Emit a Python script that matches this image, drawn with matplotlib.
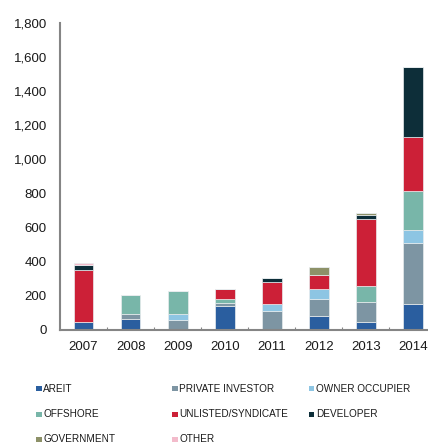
import matplotlib
matplotlib.use("Agg")
import matplotlib.pyplot as plt
from matplotlib.patches import Rectangle
import numpy as np

plt.rcParams['font.family'] = ['Liberation Sans', 'DejaVu Sans']

years = ["2007", "2008", "2009", "2010", "2011", "2012", "2013", "2014"]

series_names = ["AREIT", "PRIVATE INVESTOR", "OWNER OCCUPIER", "OFFSHORE",
                "UNLISTED/SYNDICATE", "DEVELOPER", "GOVERNMENT", "OTHER"]

areit      = [45, 62, 0, 140, 0, 81, 46, 152]
private    = [0, 30, 58, 18, 111, 97, 118, 355]
owner_occ  = [0, 0, 32, 0, 39, 58, 0, 78]
offshore   = [0, 110, 138, 20, 0, 0, 92, 230]
unlisted   = [305, 0, 0, 58, 131, 85, 392, 316]
developer  = [30, 0, 0, 0, 20, 0, 21, 411]
government = [0, 0, 0, 0, 0, 45, 12, 0]
other      = [12, 0, 0, 0, 0, 0, 0, 0]

colors = ["#2A5E9F", "#7D95A3", "#8DC5E3", "#78B6A9",
          "#CC2037", "#0D2E39", "#8D9168", "#F3BBCB"]

y_ticks = [0, 200, 400, 600, 800, 1000, 1200, 1400, 1600, 1800]

W, H = 428, 445
fig = plt.figure(figsize=(W / 100, H / 100), dpi=100)
ax_left, ax_right, ax_top, ax_bot = 60, 428, 22.7, 329.5
ax = fig.add_axes([ax_left / W, 1 - ax_bot / H,
                   (ax_right - ax_left) / W, (ax_bot - ax_top) / H])

data = [areit, private, owner_occ, offshore, unlisted, developer, government, other]
x = np.arange(len(years))
base = np.zeros(len(years))
for vals, col in zip(data, colors):
    vals = np.asarray(vals, dtype=float)
    ax.bar(x, vals, width=0.42, bottom=base.copy(), color=col,
           edgecolor="#E8ECEE", linewidth=0.5, zorder=2)
    base = base + vals

ax.set_xlim(-0.5, 7.32)
ax.set_ylim(0, 1800)
ax.set_yticks(y_ticks)
ax.set_yticklabels([f"{v:,}" for v in y_ticks])
ax.set_xticks(x)
ax.set_xticklabels(years)
ax.set_xticks(np.arange(0.5, 7, 1), minor=True)

for s in ["top", "right"]:
    ax.spines[s].set_visible(False)
for s in ["left", "bottom"]:
    ax.spines[s].set_color("#858585")
    ax.spines[s].set_linewidth(1.5)

ax.tick_params(axis="y", length=0, pad=9.5, labelsize=9.5, labelcolor="#1a1a1a")
ax.tick_params(axis="x", which="major", length=0, pad=8.5, labelsize=9.5,
               labelcolor="#1a1a1a")
ax.tick_params(axis="x", which="minor", direction="in", length=2.5,
               width=0.8, color="#858585")

# legend grid: three columns, filled row by row
col_x = [36, 172, 308.7]
row_y = [388.5, 414.3, 439.3]
sq = 5.5
for i, (name, col) in enumerate(zip(series_names, colors)):
    r, c = divmod(i, 3)
    cx, cy = col_x[c], row_y[r]
    fig.add_artist(Rectangle((cx / W, 1 - (cy + sq / 2) / H),
                             sq / W, sq / H, transform=fig.transFigure,
                             facecolor=col, edgecolor="none"))
    fig.text((cx + sq + 1.8) / W, 1 - cy / H, name, fontsize=7.2,
             va="center", ha="left", color="#1a1a1a")

fig.savefig("out.png", dpi=100)
